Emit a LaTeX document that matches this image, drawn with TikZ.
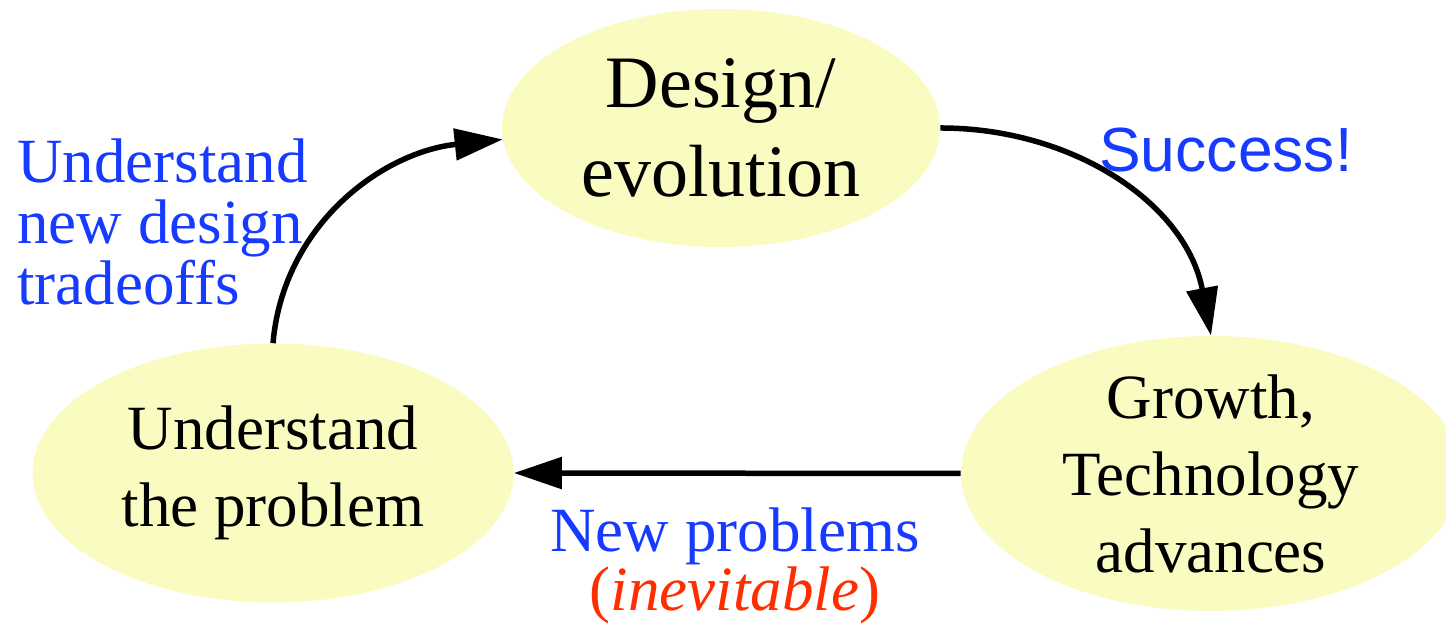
\documentclass[tikz,border=0pt]{standalone}
\usepackage{fontspec}
\setmainfont{Liberation Serif}
\newfontfamily\policesans{Liberation Sans}
\usetikzlibrary{shapes.geometric}
\usetikzlibrary{arrows.meta}

\definecolor{fondbulle}{RGB}{250,251,192}
\definecolor{bleulegende}{RGB}{22,58,255}
\definecolor{rougelegende}{RGB}{255,45,0}

\begin{document}
\begin{tikzpicture}[bulle/.style={ellipse,fill=fondbulle,inner sep=0pt,align=center,font=\fontsize{35.85}{43.8}\selectfont},
fleche/.style={line width=0.11cm,-{Triangle[length=0.96cm,width=0.62cm]}},
legende/.style={inner sep=0pt,text=bleulegende,font=\fontsize{35.85}{34.7}\selectfont}]

\useasboundingbox (0,0) rectangle (28.92,12.48);

%%%%%%%%%%%%%%%%%%%%%%%%
%Les trois bulles
%%%%%%%%%%%%%%%%%%%%%%%%
\node[bulle,minimum width=8.76cm,minimum height=4.76cm,font=\fontsize{42.1}{50.65}\selectfont] (conception) at (14.42,9.92) {Design/\\evolution};
\node[bulle,minimum width=9.62cm,minimum height=5.18cm] (probleme) at (5.46,3.02) {Understand\\the problem};
\node[bulle,minimum width=10cm,minimum height=5.5cm,inner ysep=-0.5cm] (croissance) at (24.22,3.01) {Growth,\\Technology\\advances}; %inner ysep negatif pour garder la hauteur

%%%%%%%%%%%%%%%%%%%%%%%%
%Les fleches du cycle
%%%%%%%%%%%%%%%%%%%%%%%%
\draw[fleche] (probleme.north) to[out=85,in=186] (conception.183.6);
\draw[fleche] (conception.east) to[out=0,in=100.7] (croissance.north);
\draw[fleche] (croissance.west) -- (probleme.east);

%%%%%%%%%%%%%%%%%%%%%%%%
%Les legendes
%%%%%%%%%%%%%%%%%%%%%%%%
\node[legende,anchor=north west,align=left] (comprendre) at (0.34,9.72) {Understand\\new design\\tradeoffs};
\node[legende,anchor=base west,font=\policesans\fontsize{35.5}{42}\selectfont] (succes) at (21.98,9.04) {Success!};
\node[legende,anchor=north,align=center,font=\fontsize{35.85}{34.1}\selectfont] (nouveaux) at (14.70,2.34) {New problems\\\textcolor{rougelegende}{(\textit{inevitable})}};

\end{tikzpicture}
\end{document}
